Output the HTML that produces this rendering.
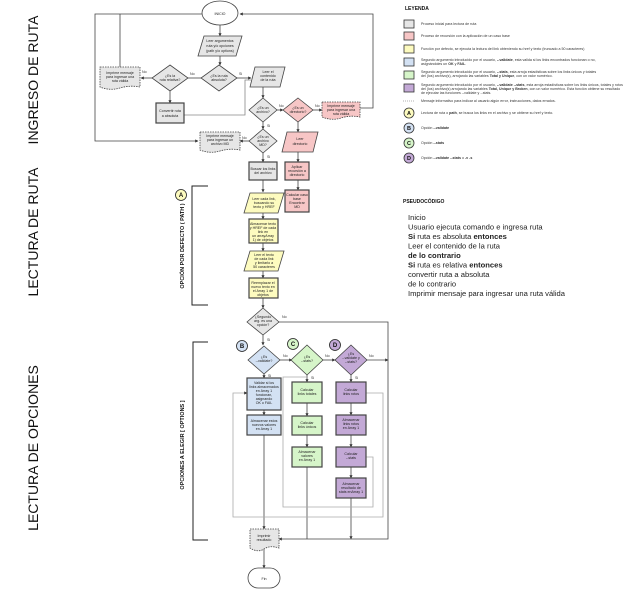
<!DOCTYPE html>
<html><head><meta charset="utf-8"><style>
html,body{margin:0;padding:0;background:#fff;}
svg{display:block;font-family:"Liberation Sans",sans-serif;}
.t{font-size:3.6px;fill:#222;text-anchor:middle;}
.l{font-size:3.6px;fill:#333;}
.y{font-size:3.6px;fill:#333;}
</style></head><body>
<svg width="640" height="590" viewBox="0 0 640 590" xmlns="http://www.w3.org/2000/svg">
<defs><marker id="a" markerWidth="4" markerHeight="4" refX="3.5" refY="2" orient="auto"><path d="M0,0L4,2L0,4z" fill="#333"/></marker></defs>
<rect width="640" height="590" fill="#fff"/>

<!-- section labels -->
<g font-size="14" fill="#111">
<text transform="translate(38,80) rotate(-90)" text-anchor="middle">INGRESO DE RUTA</text>
<text transform="translate(38,232) rotate(-90)" text-anchor="middle">LECTURA DE RUTA</text>
<text transform="translate(38,448) rotate(-90)" text-anchor="middle">LECTURA DE OPCIONES</text>
</g>
<g font-size="5.5" font-weight="bold" fill="#111">
<text transform="translate(184,246) rotate(-90)" text-anchor="middle">OPCIÓN POR DEFECTO ( PATH )</text>
<text transform="translate(184,445) rotate(-90)" text-anchor="middle">OPCIONES A ELEGIR [ OPTIONS ]</text>
</g>
<path d="M208,186H192V305H208M208,342H193V540H208" fill="none" stroke="#222" stroke-width="1"/>

<!-- connectors -->
<g fill="none" stroke="#444" stroke-width="0.8">
<path d="M202,14H95V141H198" marker-end="url(#a)"/>
<path d="M120,67V14"/>
<path d="M360,108H373V14H240" marker-end="url(#a)"/>
<path d="M220,25V36" marker-end="url(#a)"/>
<path d="M220,56V65" marker-end="url(#a)"/>
<path d="M201,78H188"/>
<path d="M152,78H141" marker-end="url(#a)"/>
<path d="M170,91V103" marker-end="url(#a)"/>
<path d="M237,78H251" marker-end="url(#a)"/>
<path d="M184,115H245V80H251" stroke="#888"/>
<path d="M263,87V98" marker-end="url(#a)"/>
<path d="M277,110H283" marker-end="url(#a)"/>
<path d="M313,110H322" marker-end="url(#a)"/>
<path d="M263,122V129" marker-end="url(#a)"/>
<path d="M249,141H240" marker-end="url(#a)"/>
<path d="M263,153V162" marker-end="url(#a)"/>
<path d="M263,180V192" marker-end="url(#a)"/>
<path d="M298,122V132" marker-end="url(#a)"/>
<path d="M298,152V162" marker-end="url(#a)"/>
<path d="M298,180V190" marker-end="url(#a)"/>
<path d="M263,213V219" marker-end="url(#a)"/>
<path d="M263,243V251" marker-end="url(#a)"/>
<path d="M263,271V278" marker-end="url(#a)"/>
<path d="M263,298V308" marker-end="url(#a)"/>
<path d="M279,322H388V539H279" marker-end="url(#a)"/>
<path d="M263,335V345" marker-end="url(#a)"/>
<path d="M280,360H292" marker-end="url(#a)"/>
<path d="M323,360H335" marker-end="url(#a)"/>
<path d="M367,360H388" marker-end="url(#a)"/>
<path d="M264,374V378" marker-end="url(#a)"/>
<path d="M307,375V382" marker-end="url(#a)"/>
<path d="M351,375V382" marker-end="url(#a)"/>
<path d="M264,410V415" marker-end="url(#a)"/>
<path d="M264,435V529" marker-end="url(#a)"/>
<path d="M307,403V416" marker-end="url(#a)"/>
<path d="M307,435V447" marker-end="url(#a)"/>
<path d="M307,467V539"/>
<path d="M351,403V415" marker-end="url(#a)"/>
<path d="M351,435V447" marker-end="url(#a)"/>
<path d="M351,467V478" marker-end="url(#a)"/>
<path d="M351,498V539" marker-end="url(#a)"/>
<path d="M264,548V568" marker-end="url(#a)"/>
</g>
<g fill="none" stroke="#aaa" stroke-width="0.8">
<path d="M366,393H383V517H233V393H247" marker-end="url(#a)"/>
<path d="M366,457H373V507H283V377H307"/>
</g>

<!-- shapes -->
<g stroke="#444" stroke-width="0.8">
<ellipse cx="220" cy="13" rx="18" ry="12" fill="#fff"/>
<polygon points="204,36 242,36 236,56 198,56" fill="#e6e6e6"/>
<polygon points="219,65 237,78 219,91 201,78" fill="#e6e6e6"/>
<polygon points="170,65 188,78 170,91 152,78" fill="#e6e6e6"/>
<path d="M100,67H140V87Q130,85 120,88T100,87Z" fill="#e6e6e6" stroke-dasharray="1.5,1"/>
<rect x="156" y="103" width="28" height="20" fill="#e6e6e6" stroke-width="1.2"/>
<polygon points="255,67 285,67 280,87 250,87" fill="#e6e6e6"/>
<polygon points="263,98 277,110 263,122 249,110" fill="#e6e6e6"/>
<polygon points="298,98 313,110 298,122 283,110" fill="#f7c6c6"/>
<path d="M322,102H360V117Q350,115 341,118T322,117Z" fill="#f7c6c6" stroke-dasharray="1.5,1"/>
<polygon points="263,129 277,141 263,153 249,141" fill="#e6e6e6"/>
<path d="M200,132H240V150Q230,148 220,151T200,150Z" fill="#e6e6e6" stroke-dasharray="1.5,1"/>
<rect x="249" y="162" width="28" height="18" fill="#e6e6e6" stroke-width="1.2"/>
<polygon points="287,132 318,132 313,152 282,152" fill="#f7c6c6"/>
<rect x="285" y="162" width="24" height="18" fill="#f7c6c6" stroke-width="1.2"/>
<rect x="285" y="190" width="24" height="22" fill="#f7c6c6" stroke-width="1.2"/>
<polygon points="250,193 284,193 278,213 244,213" fill="#fdfbbf"/>
<rect x="249" y="219" width="29" height="24" fill="#fdfbbf" stroke-width="1.2"/>
<polygon points="250,251 284,251 278,271 244,271" fill="#fdfbbf"/>
<rect x="249" y="278" width="29" height="20" fill="#fdfbbf" stroke-width="1.2"/>
<polygon points="263,308 279,322 263,335 247,322" fill="#e6e6e6"/>
<polygon points="264,346 280,360 264,374 248,360" fill="#d3e1f3"/>
<polygon points="307,345 323,360 307,375 291,360" fill="#d6f5c9"/>
<polygon points="351,345 367,360 351,375 335,360" fill="#c3a9d6"/>
<rect x="247" y="378" width="34" height="32" fill="#d3e1f3" stroke-width="1.2"/>
<rect x="247" y="415" width="34" height="20" fill="#d3e1f3" stroke-width="1.2"/>
<rect x="292" y="382" width="30" height="21" fill="#d6f5c9" stroke-width="1.2"/>
<rect x="292" y="416" width="30" height="19" fill="#d6f5c9" stroke-width="1.2"/>
<rect x="292" y="447" width="30" height="20" fill="#d6f5c9" stroke-width="1.2"/>
<rect x="336" y="382" width="30" height="21" fill="#c3a9d6" stroke-width="1.2"/>
<rect x="336" y="415" width="30" height="20" fill="#c3a9d6" stroke-width="1.2"/>
<rect x="336" y="447" width="30" height="20" fill="#c3a9d6" stroke-width="1.2"/>
<rect x="336" y="478" width="30" height="20" fill="#c3a9d6" stroke-width="1.2"/>
<path d="M250,529H279V548Q270,545 264,549T250,548Z" fill="#e6e6e6" stroke-dasharray="1.5,1"/>
<rect x="248" y="568" width="32" height="20" rx="10" fill="#fff"/>
<circle cx="181" cy="195" r="5.5" fill="#fdfbbf" stroke="#222"/>
<circle cx="242" cy="346" r="5.5" fill="#d3e1f3" stroke="#222"/>
<circle cx="293" cy="344" r="5.5" fill="#d6f5c9" stroke="#222"/>
<circle cx="335" cy="345" r="5.5" fill="#c3a9d6" stroke="#222"/>
</g>
<g font-size="6" font-weight="bold" text-anchor="middle" fill="#111">
<text x="181" y="197">A</text><text x="242" y="348">B</text><text x="293" y="346">C</text><text x="335" y="347">D</text>
</g>

<!-- node text -->
<g class="t">
<text x="220" y="15">INICIO</text>
<text x="220" y="42">Leer argumentos</text><text x="220" y="47">ruta y/o opciones</text><text x="220" y="52">(path y/o options)</text>
<text x="219" y="77">¿Es la ruta</text><text x="219" y="81">absoluta?</text>
<text x="170" y="77">¿Es la</text><text x="170" y="81">ruta relativa?</text>
<text x="120" y="74">Imprime mensaje</text><text x="120" y="78">para ingresar una</text><text x="120" y="82">ruta válida</text>
<text x="170" y="112">Convertir ruta</text><text x="170" y="117">a absoluta</text>
<text x="268" y="73">Leer el</text><text x="268" y="77">contenido</text><text x="268" y="81">de la ruta</text>
<text x="263" y="109">¿Es un</text><text x="263" y="113">archivo?</text>
<text x="298" y="109">¿Es un</text><text x="298" y="113">directorio?</text>
<text x="341" y="107">Imprime mensaje</text><text x="341" y="111">para ingresar una</text><text x="341" y="115">ruta válida</text>
<text x="263" y="138">¿Es un</text><text x="263" y="142">archivo</text><text x="263" y="146">MD?</text>
<text x="220" y="137">Imprime mensaje</text><text x="220" y="141">para ingresar un</text><text x="220" y="145">archivo MD</text>
<text x="263" y="170">Buscar los links</text><text x="263" y="174">del archivo</text>
<text x="300" y="140">Leer</text><text x="300" y="145">directorio</text>
<text x="297" y="168">Aplicar</text><text x="297" y="172">recursión a</text><text x="297" y="176">directorio</text>
<text x="297" y="196">Calcular caso</text><text x="297" y="200">base</text><text x="297" y="204">Encontrar</text><text x="297" y="208">MD</text>
<text x="264" y="200">Leer cada link,</text><text x="264" y="204">buscando su</text><text x="264" y="208">texto y HREF</text>
<text x="263" y="225">Almacenar texto</text><text x="263" y="229">y HREF de cada</text><text x="263" y="233">link en</text><text x="263" y="237">un arrayArray</text><text x="263" y="241">1) de objetos</text>
<text x="264" y="256">Leer el texto</text><text x="264" y="260">de cada link</text><text x="264" y="264">y limitarlo a</text><text x="264" y="268">50 caracteres</text>
<text x="263" y="284">Reemplazar el</text><text x="263" y="288">nuevo texto en</text><text x="263" y="292">el Array 1 de</text><text x="263" y="296">objetos</text>
<text x="263" y="318">¿Segundo</text><text x="263" y="322">arg. es una</text><text x="263" y="326">opción?</text>
<text x="264" y="358">¿Es</text><text x="264" y="362">--validate?</text>
<text x="307" y="358">¿Es</text><text x="307" y="362">--stats?</text>
<text x="351" y="355">¿Es</text><text x="351" y="359">--validate y</text><text x="351" y="363">--stats?</text>
<text x="264" y="384">Validar si los</text><text x="264" y="388">links almacenados</text><text x="264" y="392">en Array 1</text><text x="264" y="396">funcionan,</text><text x="264" y="400">asignando</text><text x="264" y="404">OK o FAIL</text>
<text x="264" y="422">Almacenar estos</text><text x="264" y="426">nuevos valores</text><text x="264" y="430">en Array 1</text>
<text x="307" y="391">Calcular</text><text x="307" y="395">links totales</text>
<text x="307" y="424">Calcular</text><text x="307" y="428">links únicos</text>
<text x="307" y="453">Almacenar</text><text x="307" y="457">valores</text><text x="307" y="461">en Array 1</text>
<text x="351" y="391">Calcular</text><text x="351" y="395">links rotos</text>
<text x="351" y="421">Almacenar</text><text x="351" y="425">links rotos</text><text x="351" y="429">en Array 1</text>
<text x="351" y="455">Calcular</text><text x="351" y="459">--stats</text>
<text x="351" y="485">Almacenar</text><text x="351" y="489">resultado de</text><text x="351" y="493">stats enArray 1</text>
<text x="264" y="537">Imprimir</text><text x="264" y="541">resultado</text>
<text x="264" y="580">Fin</text>
</g>
<g class="l">
<text x="142" y="73">No</text><text x="190" y="75">No</text><text x="239" y="75">Si</text>
<text x="279" y="107">No</text><text x="315" y="107">No</text><text x="267" y="127">Si</text>
<text x="242" y="139">No</text><text x="267" y="158">Si</text>
<text x="282" y="318">No</text><text x="267" y="341">Si</text>
<text x="283" y="357">No</text><text x="325" y="357">No</text><text x="369" y="357">No</text>
<text x="268" y="377">Si</text><text x="311" y="379">Si</text><text x="355" y="379">Si</text>
</g>

<!-- legend -->
<text x="405" y="10" font-size="5" font-weight="bold" fill="#111">LEYENDA</text>
<g stroke="#333" stroke-width="0.8">
<rect x="404" y="20" width="10" height="8" fill="#e6e6e6"/>
<rect x="404" y="32" width="10" height="8" fill="#f7c6c6"/>
<rect x="404" y="45" width="10" height="8" fill="#fdfbbf"/>
<rect x="404" y="58" width="10" height="8" fill="#d3e1f3"/>
<rect x="404" y="71" width="10" height="8" fill="#d6f5c9"/>
<rect x="404" y="84" width="10" height="8" fill="#c3a9d6"/>
<path d="M403,101H414" stroke-dasharray="1,1" stroke="#999"/>
<circle cx="409" cy="113" r="5" fill="#fdfbbf"/>
<circle cx="409" cy="128" r="5" fill="#d3e1f3"/>
<circle cx="409" cy="143" r="5" fill="#d6f5c9"/>
<circle cx="409" cy="158" r="5" fill="#c3a9d6"/>
</g>
<g font-size="5.5" font-weight="bold" text-anchor="middle" fill="#111">
<text x="409" y="115">A</text><text x="409" y="130">B</text><text x="409" y="145">C</text><text x="409" y="160">D</text>
</g>
<g class="y">
<text x="421" y="25">Proceso inicial para lectura de ruta</text>
<text x="421" y="37">Proceso de recursión con la aplicación de un caso base</text>
<text x="421" y="50">Función por defecto, se ejecuta la lectura del link obteniendo su href y texto (truncado a 50 caracteres)</text>
<text x="421" y="61">Segundo argumento introducido por el usuario, <tspan font-weight="bold">--validate</tspan>, esta valida si los links encontrados funcionan o no,</text>
<text x="421" y="65">asignándoles un <tspan font-weight="bold">OK</tspan> y <tspan font-weight="bold">FAIL</tspan>.</text>
<text x="421" y="73">Segundo argumento introducido por el usuario, <tspan font-weight="bold">--stats</tspan>, esta arroja estadísticas sobre los links únicos y totales</text>
<text x="421" y="77">del (los) archivo(s), arrojando las variables <tspan font-weight="bold">Total y Unique</tspan>, con un valor numérico.</text>
<text x="421" y="86">Segundo argumento introducido por el usuario, <tspan font-weight="bold">--validate --stats</tspan>, esta arroja estadísticas sobre los links únicos, totales y rotos</text>
<text x="421" y="90">del (los) archivo(s) arrojando las variables <tspan font-weight="bold">Total, Unique y Broken</tspan>, con un valor numérico. Esta función obtiene su resultado</text>
<text x="421" y="94">de ejecutar las funciones --validate y --stats.</text>
<text x="421" y="102">Mensaje informativo para indicar al usuario algún error, instrucciones, datos errados.</text>
<text x="421" y="114">Lectura de ruta o <tspan font-weight="bold">path</tspan>, se busca los links en el archivo y se obtiene su href y texto.</text>
<text x="421" y="129">Opción <tspan font-weight="bold">--validate</tspan></text>
<text x="421" y="144">Opción <tspan font-weight="bold">--stats</tspan></text>
<text x="421" y="159">Opción <tspan font-weight="bold">--validate --stats</tspan> o <tspan font-weight="bold">-v -s</tspan></text>
</g>

<!-- pseudocode -->
<text x="403" y="203" font-size="5" font-weight="bold" fill="#111">PSEUDOCÓDIGO</text>
<g font-size="7.6" fill="#222">
<text x="408" y="220">Inicio</text>
<text x="408" y="229.5">Usuario ejecuta comando e ingresa ruta</text>
<text x="408" y="239"><tspan font-weight="bold">Si</tspan> ruta es absoluta <tspan font-weight="bold">entonces</tspan></text>
<text x="408" y="248.5">Leer el contenido de la ruta</text>
<text x="408" y="258" font-weight="bold">de lo contrario</text>
<text x="408" y="267.5"><tspan font-weight="bold">Si</tspan> ruta es relativa <tspan font-weight="bold">entonces</tspan></text>
<text x="408" y="277">convertir ruta a absoluta</text>
<text x="408" y="286.5">de lo contrario</text>
<text x="408" y="296">Imprimir mensaje para ingresar una ruta válida</text>
</g>
</svg>
</body></html>
